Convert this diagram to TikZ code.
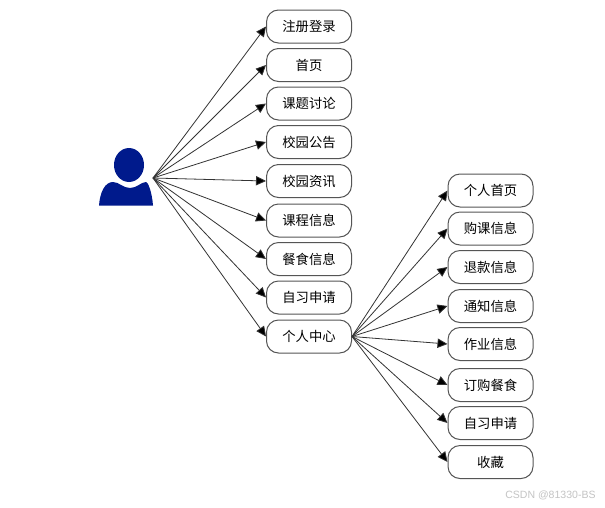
\documentclass[tikz,border=0pt]{standalone}
\usepackage{xcolor}
\usepackage{fontspec}
\setmainfont{Noto Sans CJK SC}
\newfontfamily\markfont{Liberation Sans}
\usetikzlibrary{arrows.meta,positioning}
\definecolor{userblue}{HTML}{001A8C}
\definecolor{boxedge}{HTML}{555555}
\definecolor{linkink}{HTML}{333333}
\definecolor{markgrey}{HTML}{C4C4C4}
\tikzset{
  menubox/.style={draw=boxedge, line width=0.75pt, rounded corners=9pt, fill=white, minimum width=63.75pt, minimum height=24.75pt, inner sep=0pt, font=\fontsize{10}{12}\selectfont},
  menulink/.style={draw=linkink, line width=0.6pt, -{Triangle[length=7.5pt,width=7pt,fill=black]}},
}

\begin{document}
\begin{tikzpicture}[x=0.75pt,y=-0.75pt]
  \useasboundingbox (0,0) rectangle (605,507);
  \fill[white] (0,0) rectangle (605,507);

  % user figure
  \fill[userblue] (129,165) ellipse [x radius=15, y radius=17];
  \fill[userblue] (99,205.5) .. controls (100,192) and (105,182) .. (113,182) .. controls (119,182) and (123,188) .. (130,188) .. controls (137,188) and (141,182) .. (146,182) .. controls (148,182) and (152,192) .. (153,205.5) -- cycle;
  \coordinate (user) at (153,178);

  % first column
  \node[menubox] (regist) at (309,26.5) {注册登录};
  \node[menubox] (home) at (309,65) {首页};
  \node[menubox] (topic) at (309,103.5) {课题讨论};
  \node[menubox] (notice) at (309,142) {校园公告};
  \node[menubox] (news) at (309,181) {校园资讯};
  \node[menubox] (course) at (309,220.5) {课程信息};
  \node[menubox] (meal) at (309,259) {餐食信息};
  \node[menubox] (study) at (309,297.5) {自习申请};
  \node[menubox] (personal) at (309,336.5) {个人中心};

  % second column
  \node[menubox] (myhome) at (490.5,190.5) {个人首页};
  \node[menubox] (buy) at (490.5,228.5) {购课信息};
  \node[menubox] (refund) at (490.5,267) {退款信息};
  \node[menubox] (inform) at (490.5,306) {通知信息};
  \node[menubox] (homework) at (490.5,344) {作业信息};
  \node[menubox] (order) at (490.5,385) {订购餐食};
  \node[menubox] (mystudy) at (490.5,423) {自习申请};
  \node[menubox] (collect) at (490.5,462) {收藏};

  \foreach \n in {regist,home,topic,notice,news,course,meal,study,personal} {
    \draw[menulink] (user) -- (\n.west);
  }
  \foreach \n in {myhome,buy,refund,inform,homework,order,mystudy,collect} {
    \draw[menulink] (personal.east) -- (\n.west);
  }

  \node[anchor=west, inner sep=0pt, text=markgrey, font=\markfont\fontsize{7.9}{9}\selectfont] (mark) at (505,495.5) {CSDN @81330-BS};
\end{tikzpicture}
\end{document}
